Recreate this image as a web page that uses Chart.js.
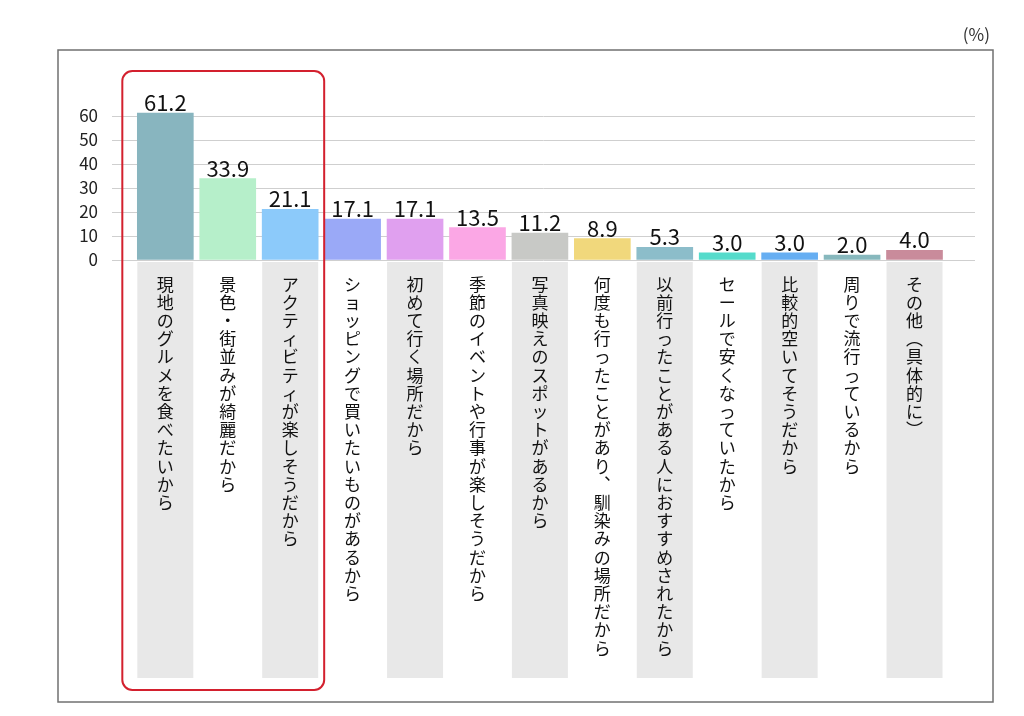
<!DOCTYPE html>
<html lang="ja">
<head>
<meta charset="utf-8">
<title>理由</title>
<script src="https://cdn.jsdelivr.net/npm/chart.js@4.4.1/dist/chart.umd.min.js"></script>
<style>
  html, body { margin: 0; padding: 0; background: #fff; }
  #wrap { width: 1024px; height: 716px; }
</style>
</head>
<body>
<div id="wrap"><canvas id="reasonChart" width="1024" height="716"></canvas></div>
<script>
// =============================
// DATA
// =============================
const categories = [
  "現地のグルメを食べたいから",
  "景色・街並みが綺麗だから",
  "アクティビティが楽しそうだから",
  "ショッピングで買いたいものがあるから",
  "初めて行く場所だから",
  "季節のイベントや行事が楽しそうだから",
  "写真映えのスポットがあるから",
  "何度も行ったことがあり、馴染みの場所だから",
  "以前行ったことがある人におすすめされたから",
  "セールで安くなっていたから",
  "比較的空いてそうだから",
  "周りで流行っているから",
  "その他（具体的に）"
];

const values = [61.2, 33.9, 21.1, 17.1, 17.1, 13.5, 11.2, 8.9, 5.3, 3.0, 3.0, 2.0, 4.0];

const yTicks = [0, 10, 20, 30, 40, 50, 60];

const unitLabel = "(%)";

// =============================
// STYLE
// =============================
const barColors = [
  "#88b5bf", "#b6efca", "#8ccafa", "#9aa9f7", "#e0a0ef",
  "#fba7e5", "#c8c9c6", "#f1d87c", "#8cbdca", "#55dbcb",
  "#66aef2", "#87b8bd", "#c98b9b"
];

const FONT = "'Noto Sans CJK JP', 'Noto Sans', sans-serif";

// vertical forms so the stacked labels look like tategaki
const verticalForms = { "、": "\uFE11", "（": "\uFE35", "）": "\uFE36" };

function toVertical(label) {
  return Array.from(label).map(ch => verticalForms[ch] || ch);
}

// =============================
// DECORATION PLUGIN
// =============================
const decoPlugin = {
  id: "deco",
  beforeDraw(chart) {
    const ctx = chart.ctx;
    const x = chart.scales.x;
    const area = chart.chartArea;

    ctx.save();
    ctx.fillStyle = "#fff";
    ctx.fillRect(0, 0, chart.width, chart.height);

    // grey label columns under every other bar
    ctx.fillStyle = "#e8e8e8";
    categories.forEach((c, i) => {
      if (i % 2 !== 0) return;
      const cx = x.getPixelForValue(i);
      ctx.fillRect(cx - 28, area.bottom + 2, 56, 416);
    });

    // outer frame
    ctx.strokeStyle = "#707070";
    ctx.lineWidth = 1.5;
    ctx.strokeRect(58, 50, 935, 652);

    // unit
    ctx.fillStyle = "#333";
    ctx.font = "17px " + FONT;
    ctx.textAlign = "right";
    ctx.textBaseline = "middle";
    ctx.fillText(unitLabel, 990, 35);
    ctx.restore();
  },
  afterDatasetsDraw(chart) {
    const ctx = chart.ctx;
    const meta = chart.getDatasetMeta(0);

    ctx.save();
    ctx.fillStyle = "#111";
    ctx.font = "22px " + FONT;
    ctx.textAlign = "center";
    ctx.textBaseline = "alphabetic";
    meta.data.forEach((bar, i) => {
      ctx.fillText(values[i].toFixed(1), bar.x, bar.y - 2);
    });
    ctx.restore();
  },
  afterDraw(chart) {
    const ctx = chart.ctx;
    const x = chart.scales.x;
    const y = chart.scales.y;
    const area = chart.chartArea;

    // red highlight round the top three
    const left = x.getPixelForValue(0) - 43;
    const right = x.getPixelForValue(2) + 34;
    const top = y.getPixelForValue(values[0]) - 42;
    const bottom = area.bottom + 430;

    ctx.save();
    ctx.strokeStyle = "#d3202e";
    ctx.lineWidth = 2;
    ctx.beginPath();
    ctx.roundRect(left, top, right - left, bottom - top, 10);
    ctx.stroke();
    ctx.restore();
  }
};

// =============================
// CHART
// =============================
const ctx = document.getElementById("reasonChart").getContext("2d");

new Chart(ctx, {
  type: "bar",
  data: {
    datasets: [{
      data: values.map((v, i) => ({ x: i, y: v })),
      backgroundColor: barColors,
      borderWidth: 0,
      barThickness: 56
    }]
  },
  options: {
    responsive: false,
    animation: false,
    layout: { padding: { left: 0, right: 49, top: 101.6, bottom: 0 } },
    plugins: {
      legend: { display: false },
      tooltip: { enabled: false }
    },
    scales: {
      x: {
        type: "linear",
        offset: false,
        min: -0.854,
        max: 12.969,
        afterBuildTicks: axis => {
          axis.ticks = categories.map((c, i) => ({ value: i }));
        },
        afterFit: scale => { scale.height = 456; },
        grid: { display: false, drawTicks: false, offset: false },
        border: { display: false },
        ticks: {
          autoSkip: false,
          maxRotation: 0,
          minRotation: 0,
          padding: 15,
          color: "#111",
          font: { family: FONT, size: 17, lineHeight: "18.2px" },
          callback: value => toVertical(categories[value] || "")
        }
      },
      y: {
        min: 0,
        max: 66,
        afterBuildTicks: axis => {
          axis.ticks = yTicks.map(v => ({ value: v }));
        },
        afterFit: scale => { scale.width = 112; },
        grid: {
          color: "#cfcfcf",
          lineWidth: 1,
          drawTicks: false
        },
        border: { display: false },
        ticks: {
          padding: 14,
          color: "#222",
          font: { family: FONT, size: 17 }
        }
      }
    }
  },
  plugins: [decoPlugin]
});
</script>
</body>
</html>
